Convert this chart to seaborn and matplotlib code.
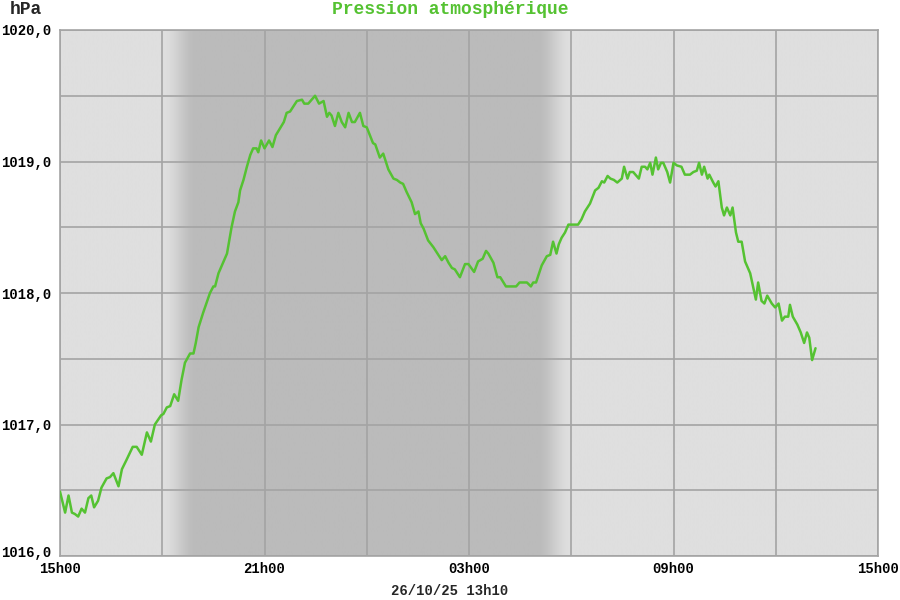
import numpy as np
import matplotlib
matplotlib.use("Agg")
import matplotlib.pyplot as plt
import matplotlib.transforms as mtransforms
from matplotlib.colors import LinearSegmentedColormap
import seaborn as sns

# Minutes since 15h00 and pressure (hPa)
minutes = [0, 9, 15, 21, 26, 32, 38, 44, 50, 55, 60, 67, 73, 82, 88, 94, 103, 109, 117, 128,
           135, 144, 153, 160, 167, 178, 182, 188, 194, 201, 208, 214, 220, 229, 235, 239, 244, 252, 264, 270,
           273, 279, 288, 294, 302, 308, 314, 317, 323, 329, 335, 340, 346, 349, 354, 360, 368, 374, 380, 387,
           394, 399, 405, 417, 426, 430, 437, 449, 456, 464, 470, 474, 478, 484, 490, 496, 502, 508, 514, 519,
           528, 534, 540, 551, 555, 563, 569, 578, 587, 593, 599, 604, 610, 619, 625, 631, 635, 640, 648, 657,
           672, 678, 684, 690, 695, 704, 713, 719, 729, 736, 744, 750, 754, 763, 770, 775, 785, 803, 809, 822,
           829, 833, 838, 848, 857, 863, 868, 874, 878, 883, 889, 895, 912, 918, 924, 933, 942, 948, 954, 958,
           964, 969, 975, 981, 989, 993, 999, 1003, 1009, 1019, 1024, 1030, 1034, 1039, 1043, 1049, 1053, 1058, 1062, 1069,
           1074, 1080, 1086, 1094, 1100, 1109, 1115, 1121, 1125, 1130, 1134, 1140, 1143, 1150, 1154, 1159, 1165, 1169, 1174, 1180,
           1184, 1190, 1194, 1200, 1206, 1215, 1225, 1229, 1235, 1240, 1245, 1253, 1259, 1265, 1271, 1276, 1282, 1285, 1290, 1298,
           1304, 1310, 1315, 1319, 1324, 1330]
pression = [1016.49, 1016.33, 1016.46, 1016.33, 1016.32, 1016.30, 1016.36, 1016.33, 1016.44, 1016.46, 1016.37, 1016.42, 1016.52, 1016.59, 1016.60, 1016.63, 1016.53, 1016.66, 1016.73, 1016.83,
            1016.83, 1016.77, 1016.94, 1016.87, 1017.00, 1017.07, 1017.08, 1017.13, 1017.14, 1017.23, 1017.18, 1017.34, 1017.47, 1017.54, 1017.54, 1017.62, 1017.74, 1017.85, 1018.00, 1018.05,
            1018.05, 1018.15, 1018.24, 1018.30, 1018.50, 1018.62, 1018.69, 1018.78, 1018.86, 1018.96, 1019.05, 1019.10, 1019.10, 1019.07, 1019.16, 1019.10, 1019.16, 1019.11, 1019.20, 1019.25,
            1019.30, 1019.37, 1019.38, 1019.46, 1019.47, 1019.44, 1019.44, 1019.50, 1019.44, 1019.46, 1019.34, 1019.37, 1019.35, 1019.27, 1019.37, 1019.30, 1019.26, 1019.37, 1019.30, 1019.30,
            1019.37, 1019.27, 1019.26, 1019.14, 1019.13, 1019.03, 1019.06, 1018.94, 1018.87, 1018.86, 1018.84, 1018.83, 1018.77, 1018.69, 1018.60, 1018.62, 1018.53, 1018.49, 1018.40, 1018.35,
            1018.25, 1018.28, 1018.23, 1018.19, 1018.18, 1018.12, 1018.22, 1018.22, 1018.16, 1018.24, 1018.26, 1018.32, 1018.30, 1018.23, 1018.12, 1018.12, 1018.05, 1018.05, 1018.08, 1018.08,
            1018.05, 1018.08, 1018.08, 1018.21, 1018.28, 1018.29, 1018.39, 1018.30, 1018.37, 1018.42, 1018.46, 1018.52, 1018.52, 1018.56, 1018.62, 1018.68, 1018.78, 1018.80, 1018.85, 1018.84,
            1018.89, 1018.87, 1018.86, 1018.84, 1018.87, 1018.96, 1018.87, 1018.92, 1018.92, 1018.87, 1018.96, 1018.96, 1018.94, 1018.99, 1018.90, 1019.03, 1018.94, 1018.99, 1018.99, 1018.92,
            1018.84, 1018.99, 1018.97, 1018.96, 1018.90, 1018.90, 1018.92, 1018.93, 1018.99, 1018.90, 1018.96, 1018.87, 1018.90, 1018.84, 1018.81, 1018.85, 1018.65, 1018.59, 1018.65, 1018.59,
            1018.65, 1018.46, 1018.39, 1018.39, 1018.24, 1018.15, 1017.95, 1018.08, 1017.94, 1017.92, 1017.98, 1017.92, 1017.89, 1017.92, 1017.79, 1017.82, 1017.82, 1017.91, 1017.82, 1017.76,
            1017.70, 1017.62, 1017.70, 1017.66, 1017.49, 1017.58]

x_ticks = [0, 360, 720, 1080, 1440]
x_labels = ["15h00", "21h00", "03h00", "09h00", "15h00"]
x_minor = [180, 540, 900, 1260]
y_ticks = [1016, 1017, 1018, 1019, 1020]
y_labels = ["1016,0", "1017,0", "1018,0", "1019,0", "1020,0"]
y_minor = [1016.5, 1017.5, 1018.5, 1019.5]
title = "Pression atmosphérique"
unit = "hPa"
date_label = "26/10/25 13h10"

green = "#55c232"
grid_col = "#a4a4a4"

sns.set_theme(style="white")
plt.rcParams["font.family"] = ["Liberation Mono", "DejaVu Sans Mono"]
plt.rcParams["font.weight"] = "bold"

fig = plt.figure(figsize=(9, 6), dpi=100)
ax = fig.add_axes([60 / 900, 44 / 600, 818 / 900, 526 / 600])

# night shading (dusk 18h-19h, dawn 05h-06h)
gx = np.linspace(0, 1440, 1441)
t = np.interp(gx, [0, 180, 240, 840, 900, 1440], [0, 0, 1, 1, 0, 0])
t = t * t * (3 - 2 * t)
night = LinearSegmentedColormap.from_list("night", ["#dfdfdf", "#bbbbbb"])
ax.imshow(t[np.newaxis, :], extent=[0, 1440, 1016, 1020], aspect="auto",
          cmap=night, vmin=0, vmax=1, zorder=0, interpolation="bilinear")

sns.lineplot(x=minutes, y=pression, color=green, linewidth=1.8, ax=ax, zorder=3)

ax.set_xlim(0, 1440)
ax.set_ylim(1016, 1020)
ax.set_xticks(x_ticks, x_labels)
ax.set_xticks(x_minor, minor=True)
ax.set_yticks(y_ticks, y_labels)
ax.set_yticks(y_minor, minor=True)
ax.tick_params(which="both", length=0, labelsize=10, colors="black")
ax.tick_params(axis="y", pad=6)
ax.tick_params(axis="x", pad=4)
ax.grid(which="both", color=grid_col, linewidth=1.2)
ax.set_axisbelow(False)
for s in ax.spines.values():
    s.set_color(grid_col)
    s.set_linewidth(1.2)
ax.set_xlabel("")
ax.set_ylabel("")

# lowest y label sits a little above the axis, as in the original
lbl = ax.get_yticklabels()[0]
lbl.set_transform(lbl.get_transform() + mtransforms.ScaledTranslation(0, 4 / 100, fig.dpi_scale_trans))

fig.text(0.5, 1 - 10 / 600, title, color=green, ha="center", va="center",
         fontsize=13, fontweight="bold")
fig.text(10 / 900, 1 - 10 / 600, unit, ha="left", va="center",
         fontsize=13, fontweight="bold")
fig.text(450 / 900, 1 - 591 / 600, date_label, ha="center", va="center",
         fontsize=10, fontweight="bold")

fig.savefig("out.png", dpi=100)
